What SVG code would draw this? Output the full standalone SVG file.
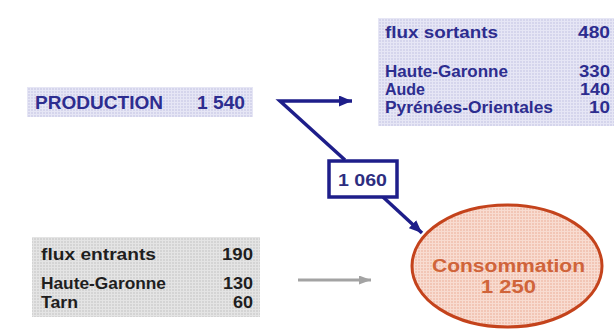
<svg xmlns="http://www.w3.org/2000/svg" width="614" height="331" viewBox="0 0 614 331">
<defs>
<pattern id="gridBlue" width="3" height="3" patternUnits="userSpaceOnUse">
<rect width="3" height="3" fill="#d5d5ec"/>
<path d="M0,0.5 H3 M0.5,0 V3" stroke="#e6e6f5" stroke-width="1"/>
</pattern>
<pattern id="gridGray" width="3" height="3" patternUnits="userSpaceOnUse">
<rect width="3" height="3" fill="#d4d4d4"/>
<path d="M0,0.5 H3 M0.5,0 V3" stroke="#e4e4e4" stroke-width="1"/>
</pattern>
<pattern id="gridSalmon" width="3" height="3" patternUnits="userSpaceOnUse">
<rect width="3" height="3" fill="#f2c6b6"/>
<path d="M0,0.5 H3 M0.5,0 V3" stroke="#f8dcd1" stroke-width="1"/>
</pattern>
<marker id="arrNavy" markerUnits="userSpaceOnUse" markerWidth="13" markerHeight="11" refX="13" refY="5.5" orient="auto">
<path d="M0,0 L13,5.5 L0,11 z" fill="#1e1e8a"/>
</marker>
<marker id="arrGray" markerUnits="userSpaceOnUse" markerWidth="12" markerHeight="9" refX="12" refY="4.5" orient="auto">
<path d="M0,0 L12,4.5 L0,9 z" fill="#a3a3a3"/>
</marker>
</defs>
<style>
text { font-family: "Liberation Sans", Arial, sans-serif; font-weight: bold; }
.blue { fill: #2d2d8f; }
.dark { fill: #1e1e1e; }
.t15 { font-size: 16px; }
.navyline { fill: none; stroke: #1e1e8a; stroke-width: 3.5; }
</style>
<rect width="614" height="331" fill="#ffffff"/>

<g id="production">
<rect x="27" y="87" width="226" height="30" fill="url(#gridBlue)"/>
<text class="blue" x="35" y="109" font-size="18" textLength="128" lengthAdjust="spacingAndGlyphs">PRODUCTION</text>
<text class="blue" x="197" y="109" font-size="18" textLength="48" lengthAdjust="spacingAndGlyphs">1 540</text>
</g>

<g id="flux-sortants">
<rect x="378" y="18" width="236" height="108" fill="url(#gridBlue)"/>
<text class="blue t15" x="385" y="38" textLength="113" lengthAdjust="spacingAndGlyphs">flux sortants</text>
<text class="blue t15" x="578" y="38" textLength="32" lengthAdjust="spacingAndGlyphs">480</text>
<text class="blue t15" x="385" y="77" textLength="123" lengthAdjust="spacingAndGlyphs">Haute-Garonne</text>
<text class="blue t15" x="579" y="77" textLength="31" lengthAdjust="spacingAndGlyphs">330</text>
<text class="blue t15" x="385" y="95" textLength="40" lengthAdjust="spacingAndGlyphs">Aude</text>
<text class="blue t15" x="580" y="95" textLength="30" lengthAdjust="spacingAndGlyphs">140</text>
<text class="blue t15" x="385" y="113" textLength="168" lengthAdjust="spacingAndGlyphs">Pyrénées-Orientales</text>
<text class="blue t15" x="589" y="113" textLength="21" lengthAdjust="spacingAndGlyphs">10</text>
</g>

<g id="flux-entrants">
<rect x="32" y="237" width="228" height="80" fill="url(#gridGray)"/>
<text class="dark t15" x="41" y="260" textLength="115" lengthAdjust="spacingAndGlyphs">flux entrants</text>
<text class="dark t15" x="222" y="260" textLength="31" lengthAdjust="spacingAndGlyphs">190</text>
<text class="dark t15" x="41" y="289" textLength="125" lengthAdjust="spacingAndGlyphs">Haute-Garonne</text>
<text class="dark t15" x="223" y="289" textLength="30" lengthAdjust="spacingAndGlyphs">130</text>
<text class="dark t15" x="41" y="308" textLength="37" lengthAdjust="spacingAndGlyphs">Tarn</text>
<text class="dark t15" x="233" y="308" textLength="20" lengthAdjust="spacingAndGlyphs">60</text>
</g>

<g id="consommation">
<ellipse cx="507" cy="266" rx="95" ry="61" fill="url(#gridSalmon)" stroke="#c4431c" stroke-width="3"/>
<text x="432" y="272" font-size="18" fill="#d0643a" textLength="153" lengthAdjust="spacingAndGlyphs">Consommation</text>
<text x="481" y="293" font-size="18" fill="#d0643a" textLength="55" lengthAdjust="spacingAndGlyphs">1 250</text>
</g>

<g id="connectors">
<path class="navyline" d="M345,160 L280,101 L352,101" marker-end="url(#arrNavy)"/>
<path class="navyline" d="M383,197 L422,233" marker-end="url(#arrNavy)"/>
<path d="M298,280 L371,280" fill="none" stroke="#a3a3a3" stroke-width="3" marker-end="url(#arrGray)"/>
</g>

<g id="label-1060">
<rect x="329" y="161" width="68" height="36" fill="#ffffff" stroke="#1e1e8a" stroke-width="3.5"/>
<text x="338" y="186" font-size="17" fill="#2d2d80" textLength="49" lengthAdjust="spacingAndGlyphs">1 060</text>
</g>
</svg>
